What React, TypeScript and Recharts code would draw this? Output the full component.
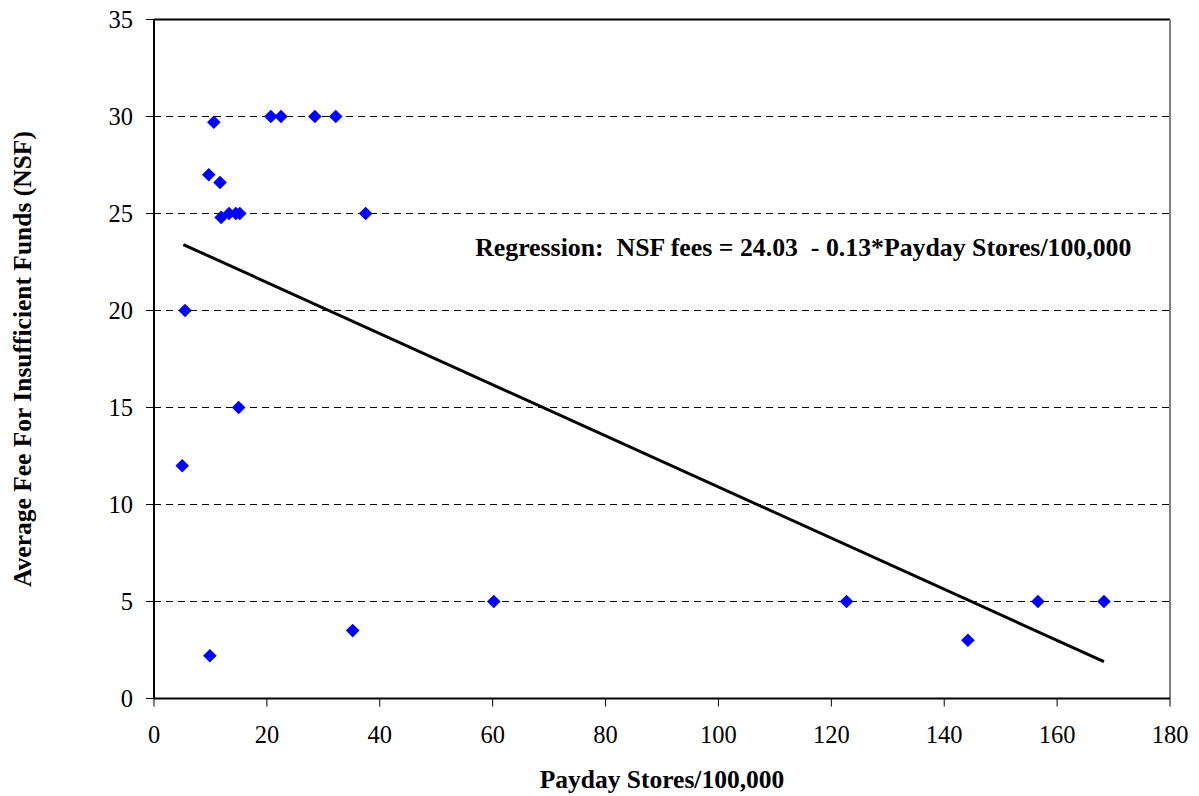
import { ScatterChart, Scatter, XAxis, YAxis, CartesianGrid, ReferenceLine, ReferenceDot } from "recharts";

// payday stores per 100,000 (x) vs average NSF fee (y)
const storesPer100k = [5.0, 5.5, 9.9, 9.7, 10.6, 11.7, 11.9, 13.3, 14.5, 15.2, 15.0, 20.7, 22.5, 28.5, 32.2, 37.5, 35.2, 60.2, 122.7, 144.2, 156.6, 168.3];
const nsfFee = [12, 20, 2.2, 27, 29.7, 26.6, 24.8, 25, 25, 25, 15, 30, 30, 30, 30, 25, 3.5, 5, 5, 3, 5, 5];

// regression line end points
const fitX = [5.2, 168.3];
const fitY = [23.4, 1.9];

const xTicks = [0, 20, 40, 60, 80, 100, 120, 140, 160, 180];
const yTicks = [0, 5, 10, 15, 20, 25, 30, 35];

const points = storesPer100k.map((x, i) => ({ x, y: nsfFee[i] }));
const fit = fitX.map((x, i) => ({ x, y: fitY[i] }));

const FONT = "Liberation Serif";

const Diamond = (props: any) => {
    const { cx, cy } = props;
    const r = 6.8;
    return <polygon points={`${cx},${cy - r} ${cx + r},${cy} ${cx},${cy + r} ${cx - r},${cy}`} fill="#0000ff" />;
};

export default function App() {
    return (
        <div style={{ position: "absolute", left: 0, top: 0, width: 1199, height: 796, background: "#fff", fontFamily: FONT }}>
            <ScatterChart width={1199} height={796} margin={{ top: 19.5, right: 29, bottom: 0, left: 0 }} style={{ fontFamily: FONT }}>
                <CartesianGrid vertical={false} stroke="#000" strokeDasharray="7 5" />
                <XAxis
                    type="number"
                    dataKey="x"
                    domain={[0, 180]}
                    ticks={xTicks}
                    height={97.5}
                    axisLine={{ stroke: "#000", strokeWidth: 2 }}
                    tickLine={{ stroke: "#000", strokeWidth: 1 }}
                    tickSize={8}
                    tickMargin={19}
                    tick={{ fill: "#000", fontSize: 24.5, fontFamily: FONT }}
                    label={{ value: "Payday Stores/100,000", position: "insideBottom", offset: 8, fill: "#000", fontSize: 25.5, fontWeight: "bold", fontFamily: FONT }}
                />
                <YAxis
                    type="number"
                    dataKey="y"
                    domain={[0, 35]}
                    ticks={yTicks}
                    width={154}
                    axisLine={{ stroke: "#000", strokeWidth: 2 }}
                    tickLine={{ stroke: "#000", strokeWidth: 1 }}
                    tickSize={8}
                    tickMargin={13}
                    tick={{ fill: "#000", fontSize: 24.5, fontFamily: FONT }}
                    label={{ value: "Average Fee For Insufficient Funds (NSF)", angle: -90, position: "insideLeft", offset: 22, fill: "#000", fontSize: 25.5, fontWeight: "bold", fontFamily: FONT, style: { textAnchor: "middle" } }}
                />
                <ReferenceLine y={35} stroke="#000" strokeWidth={2} />
                <ReferenceLine x={180} stroke="#808080" strokeWidth={2} />
                <Scatter data={fit} line={{ stroke: "#000", strokeWidth: 3 }} shape={() => null} isAnimationActive={false} />
                <Scatter data={points} shape={Diamond} isAnimationActive={false} />
                <ReferenceDot
                    x={56.9}
                    y={22.8}
                    r={0}
                    stroke="none"
                    fill="none"
                    label={(p: any) => (
                        <text x={p.viewBox.x} y={p.viewBox.y} textAnchor="start" fill="#000" fontSize={25.8} fontWeight="bold" fontFamily={FONT} style={{ whiteSpace: "pre" }}>
                            {"Regression:  NSF fees = 24.03  - 0.13*Payday Stores/100,000"}
                        </text>
                    )}
                />
            </ScatterChart>
        </div>
    );
}
